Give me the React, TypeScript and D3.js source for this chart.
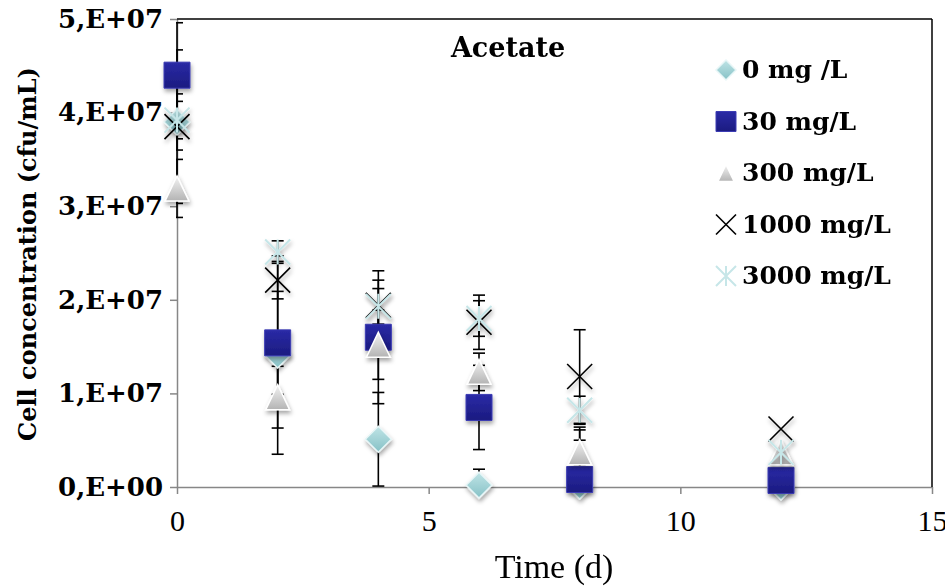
import React, { useEffect, useRef } from "react";
import * as d3 from "d3";

// time points (d)
const times = [0, 2, 4, 6, 8, 12];

// cell concentration (cfu/mL)
const conc0 = [3.9e7, 1.41e7, 0.51e7, 0.02e7, 0.01e7, 0.0];
const conc30 = [4.4e7, 1.54e7, 1.6e7, 0.85e7, 0.08e7, 0.07e7];
const conc300 = [3.19e7, 0.96e7, 1.52e7, 1.23e7, 0.37e7, 0.37e7];
const conc1000 = [3.85e7, 2.21e7, 1.94e7, 1.76e7, 1.18e7, 0.62e7];
const conc3000 = [3.92e7, 2.51e7, 1.93e7, 1.8e7, 0.82e7, 0.37e7];

// symmetric error bars
const err0 = [0.3e7, 1.06e7, 0.5e7, 0.17e7, 0.6e7, 0];
const err30 = [0.56e7, 0.55e7, 0.71e7, 0.45e7, 0.56e7, 0];
const err300 = [0.31e7, 0.33e7, 0.37e7, 0.2e7, 0.13e7, 0];
const err1000 = [0.82e7, 0.2e7, 0.27e7, 0.29e7, 0.5e7, 0];
const err3000 = [0.2e7, 0.12e7, 0.19e7, 0.19e7, 0.15e7, 0];

const seriesNames = ["0 mg /L", "30 mg/L", "300 mg/L", "1000 mg/L", "3000 mg/L"];
const seriesKinds = ["diamond", "square", "triangle", "cross", "star"];

const yTicks = [0, 1e7, 2e7, 3e7, 4e7, 5e7];
const yTickLabels = ["0,E+00", "1,E+07", "2,E+07", "3,E+07", "4,E+07", "5,E+07"];
const xTicks = [0, 5, 10, 15];

const markerPath = (kind: string, s: number) => {
  const h = s / 2;
  if (kind === "diamond") return `M0,${-h}L${h},0L0,${h}L${-h},0Z`;
  if (kind === "square") return `M${-h},${-h}H${h}V${h}H${-h}Z`;
  if (kind === "triangle") return `M0,${-h}L${h * 0.95},${h}H${-h * 0.95}Z`;
  if (kind === "cross") return `M${-h},${-h}L${h},${h}M${h},${-h}L${-h},${h}`;
  return `M${-h},${-h}L${h},${h}M${h},${-h}L${-h},${h}M0,${-h}V${h}`;
};

const App = () => {
  const svgRef = useRef(null);

  useEffect(() => {
    if (!svgRef.current) return;

    const values = [conc0, conc30, conc300, conc1000, conc3000];
    const errors = [err0, err30, err300, err1000, err3000];

    const x = d3.scaleLinear().domain([0, 15]).range([177, 932]);
    const y = d3.scaleLinear().domain([0, 5e7]).range([487, 19]);

    const svg = d3.select(svgRef.current);
    svg.selectAll("*").remove();

    const defs = svg.append("defs");
    const grad = (id: string, top: string, bottom: string) => {
      const g = defs
        .append("linearGradient")
        .attr("id", id)
        .attr("x1", 0)
        .attr("y1", 0)
        .attr("x2", 0)
        .attr("y2", 1);
      g.append("stop").attr("offset", "0%").attr("stop-color", top);
      g.append("stop").attr("offset", "100%").attr("stop-color", bottom);
    };
    grad("gDiamond", "#bfe4e6", "#86c1c6");
    grad("gSquare", "#2a2aa6", "#1b1b80");
    grad("gTriangle", "#f4f4f4", "#b3b3b3");
    defs
      .append("filter")
      .attr("id", "shadow")
      .attr("x", "-50%")
      .attr("y", "-50%")
      .attr("width", "200%")
      .attr("height", "200%")
      .append("feDropShadow")
      .attr("dx", 1)
      .attr("dy", 3)
      .attr("stdDeviation", 2)
      .attr("flood-color", "#000")
      .attr("flood-opacity", 0.35);
    defs
      .append("clipPath")
      .attr("id", "plotClip")
      .append("rect")
      .attr("x", 176)
      .attr("y", 0)
      .attr("width", 760)
      .attr("height", 488);

    const style = (kind: string, sel: any) => {
      if (kind === "diamond") sel.attr("fill", "url(#gDiamond)").attr("stroke", "#e8f6f7").attr("stroke-width", 1.5);
      else if (kind === "square") sel.attr("fill", "url(#gSquare)").attr("stroke", "#3c3cb4").attr("stroke-width", 1);
      else if (kind === "triangle") sel.attr("fill", "url(#gTriangle)").attr("stroke", "#ffffff").attr("stroke-width", 1.5);
      else if (kind === "cross") sel.attr("fill", "none").attr("stroke", "#000").attr("stroke-width", 1.6);
      else sel.attr("fill", "none").attr("stroke", "#c6e6e8").attr("stroke-width", 2);
    };

    // axes
    const yAxis = d3
      .axisLeft(y)
      .tickValues(yTicks)
      .tickFormat((d, i) => yTickLabels[i])
      .tickSize(7)
      .tickSizeOuter(0)
      .tickPadding(7);
    const gy = svg.append("g").attr("transform", "translate(177,0)").call(yAxis);
    gy.selectAll("path, line").attr("stroke", "#878787").attr("stroke-width", 1.5);
    gy.selectAll("text")
      .attr("fill", "#000")
      .style("font-family", "DejaVu Serif")
      .style("font-weight", "bold")
      .style("font-size", "26px");

    const xAxis = d3.axisBottom(x).tickValues(xTicks).tickSize(7).tickSizeOuter(0).tickPadding(16);
    const gx = svg.append("g").attr("transform", "translate(0,487)").call(xAxis);
    gx.selectAll("path, line").attr("stroke", "#878787").attr("stroke-width", 1.5);
    gx.selectAll("text")
      .attr("fill", "#000")
      .style("font-family", "Liberation Serif")
      .style("font-size", "30px");

    // top and right frame
    svg.append("line").attr("x1", 177).attr("x2", 932).attr("y1", 19).attr("y2", 19).attr("stroke", "#000").attr("stroke-width", 1.5);
    svg.append("line").attr("x1", 932).attr("x2", 932).attr("y1", 19).attr("y2", 487).attr("stroke", "#000").attr("stroke-width", 1.5);

    // error bars
    const eb = svg.append("g").attr("clip-path", "url(#plotClip)");
    values.forEach((vals, si) => {
      vals.forEach((v, i) => {
        const e = errors[si][i];
        if (!e) return;
        const cx = x(times[i]);
        const top = y(v + e);
        const bot = y(Math.max(0, v - e));
        eb.append("line").attr("x1", cx).attr("x2", cx).attr("y1", top).attr("y2", bot).attr("stroke", "#000").attr("stroke-width", 1.6);
        [top, bot].forEach((yy) => {
          eb.append("line").attr("x1", cx - 6).attr("x2", cx + 6).attr("y1", yy).attr("y2", yy).attr("stroke", "#000").attr("stroke-width", 1.6);
        });
      });
    });

    // markers
    values.forEach((vals, si) => {
      const kind = seriesKinds[si];
      const size = kind === "diamond" ? 26 : kind === "square" ? 26 : kind === "triangle" ? 25 : 25;
      const g = svg.append("g").attr("filter", "url(#shadow)");
      const marks = g
        .selectAll("path")
        .data(vals)
        .enter()
        .append("path")
        .attr("d", markerPath(kind, size))
        .attr("transform", (d, i) => `translate(${x(times[i])},${y(d)})`);
      style(kind, marks);
    });

    // title
    svg
      .append("text")
      .attr("x", 508)
      .attr("y", 57)
      .attr("text-anchor", "middle")
      .style("font-family", "DejaVu Serif")
      .style("font-weight", "bold")
      .style("font-size", "27px")
      .text("Acetate");

    // legend
    seriesNames.forEach((name, i) => {
      const ly = 70 + i * 51.5;
      const kind = seriesKinds[i];
      const m = svg
        .append("path")
        .attr("d", markerPath(kind, kind === "triangle" ? 17 : 20))
        .attr("transform", `translate(726,${ly})`);
      style(kind, m);
      svg
        .append("text")
        .attr("x", 742)
        .attr("y", ly + 8)
        .style("font-family", "DejaVu Serif")
        .style("font-weight", "bold")
        .style("font-size", "25px")
        .text(name);
    });

    // axis titles
    svg
      .append("text")
      .attr("x", 554)
      .attr("y", 578)
      .attr("text-anchor", "middle")
      .style("font-family", "Liberation Serif")
      .style("font-size", "34px")
      .text("Time (d)");
    svg
      .append("text")
      .attr("transform", "translate(36,254) rotate(-90)")
      .attr("text-anchor", "middle")
      .style("font-family", "DejaVu Serif")
      .style("font-weight", "bold")
      .style("font-size", "24px")
      .text("Cell concentration (cfu/mL)");
  }, []);

  return (
    <svg
      ref={svgRef}
      width={945}
      height={587}
      style={{ position: "absolute", left: 0, top: 0, background: "#fff" }}
    ></svg>
  );
};

export default App;
